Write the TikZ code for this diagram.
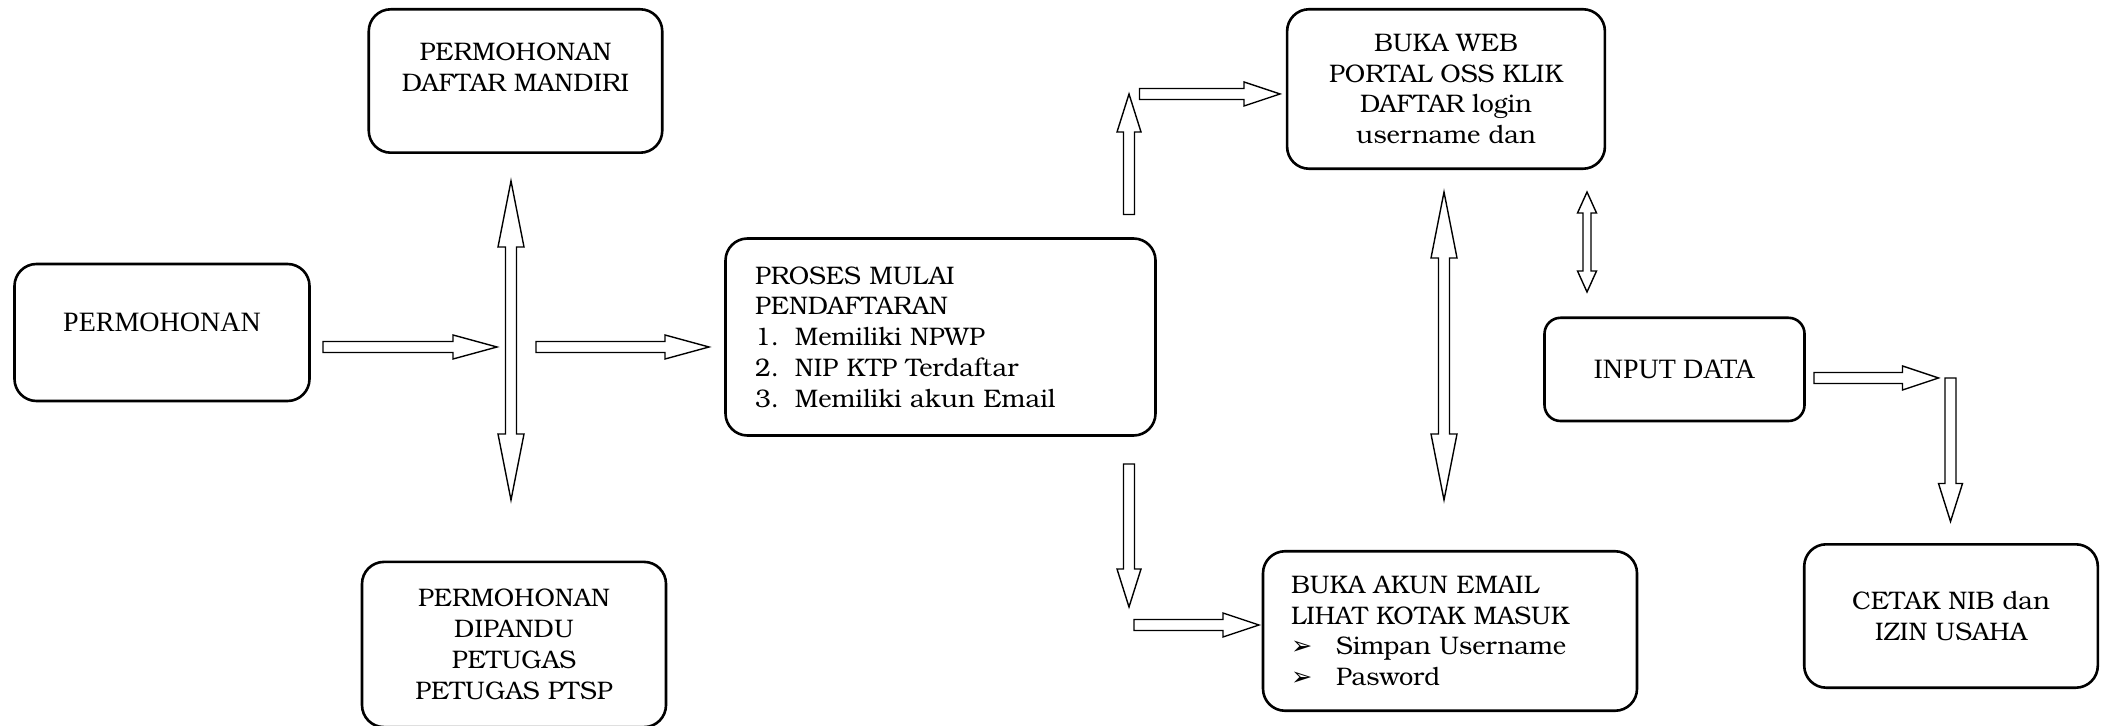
\documentclass[tikz,border=0pt]{standalone}
\usepackage{fontspec}
\setmainfont{TeX Gyre Bonum}
\newfontfamily\timesfont{Liberation Serif}
\newfontfamily\dingfont{DejaVu Sans}
\usepackage{tikz}
\usepackage{xcolor}
\usetikzlibrary{calc}
\definecolor{vblack}{HTML}{000000}

\newcommand{\bookfont}{\fontsize{12.7}{15.4}\selectfont}
\newcommand{\romfont}{\timesfont\fontsize{14}{17}\selectfont}

% tail, tip, shaft half width, head half width, head length
\newcommand{\blockarrow}[5]{%
	\draw[arrowline] ($(#1)!#3!90:(#2)$) -- ($(#2)!#5!(#1)!#3!-90:(#1)$) -- ($(#2)!#5!(#1)!#4!-90:(#1)$) -- (#2) -- ($(#2)!#5!(#1)!#4!90:(#1)$) -- ($(#2)!#5!(#1)!#3!90:(#1)$) -- ($(#1)!#3!-90:(#2)$) -- cycle;
}
% tip, tip, shaft half width, head half width, head length
\newcommand{\doubleblockarrow}[5]{%
	\draw[arrowline] (#1) -- ($(#1)!#5!(#2)!#4!90:(#2)$) -- ($(#1)!#5!(#2)!#3!90:(#2)$) -- ($(#2)!#5!(#1)!#3!-90:(#1)$) -- ($(#2)!#5!(#1)!#4!-90:(#1)$) -- (#2) -- ($(#2)!#5!(#1)!#4!90:(#1)$) -- ($(#2)!#5!(#1)!#3!90:(#1)$) -- ($(#1)!#5!(#2)!#3!-90:(#2)$) -- ($(#1)!#5!(#2)!#4!-90:(#2)$) -- cycle;
}

\begin{document}
\begin{tikzpicture}[x=0.5pt, y=-0.5pt,
	box/.style={draw=vblack, line width=1.3pt, rounded corners=11pt, align=center, inner sep=0pt, font=\bookfont},
	arrowline/.style={draw=vblack, fill=white, line width=0.7pt, line join=miter}]
		\useasboundingbox (0,0) rectangle (2102,726);

		% boxes
		\node[box, font=\romfont, minimum width=147.5pt, minimum height=68.5pt] (permohonan) at (162,332.5) {\begin{tabular}{@{}c@{}}PERMOHONAN\\[8pt]\end{tabular}};
		\node[box, minimum width=146.75pt, minimum height=71.7pt] (mandiri) at (515.5,81) {\begin{tabular}{@{}c@{}}PERMOHONAN\\DAFTAR MANDIRI\\[11pt]\end{tabular}};
		\node[box, minimum width=152pt, minimum height=82.6pt] (dipandu) at (514,644.5) {PERMOHONAN\\DIPANDU\\PETUGAS\\PETUGAS PTSP};
		\node[box, align=left, text width=185.5pt, minimum width=215pt, minimum height=98.5pt] (proses) at (940.5,337) {PROSES MULAI\\PENDAFTARAN\\\makebox[20pt][l]{1.}Memiliki NPWP\\\makebox[20pt][l]{2.}NIP KTP Terdaftar\\\makebox[20pt][l]{3.}Memiliki akun Email};
		\node[box, minimum width=158.9pt, minimum height=79.75pt] (web) at (1446,89) {BUKA WEB\\PORTAL OSS KLIK\\DAFTAR login\\ username dan};
		\node[box, align=left, text width=159pt, minimum width=187pt, minimum height=79.75pt] (email) at (1450,631) {BUKA AKUN EMAIL\\LIHAT KOTAK MASUK\\\makebox[22.5pt][l]{\dingfont ➢}Simpan Username\\\makebox[22.5pt][l]{\dingfont ➢}Pasword};
		\node[box, font=\romfont, rounded corners=8pt, minimum width=130pt, minimum height=51.6pt] (input) at (1674.5,369.4) {INPUT DATA};
		\node[box, minimum width=146.8pt, minimum height=71.7pt] (cetak) at (1951,616) {CETAK NIB dan\\IZIN USAHA};

		% arrow ends
		\coordinate (A1) at (323,347);
		\coordinate (A2) at (497,347);
		\coordinate (B1) at (536,347);
		\coordinate (B2) at (709,347);
		\coordinate (C1) at (511,181);
		\coordinate (C2) at (511,500);
		\coordinate (D1) at (1129,214.5);
		\coordinate (D2) at (1129,94);
		\coordinate (E1) at (1139.5,94);
		\coordinate (E2) at (1280,94);
		\coordinate (F1) at (1129,464);
		\coordinate (F2) at (1129,607);
		\coordinate (G1) at (1134,625);
		\coordinate (G2) at (1259,625);
		\coordinate (H1) at (1444,192);
		\coordinate (H2) at (1444,500);
		\coordinate (I1) at (1587,192);
		\coordinate (I2) at (1587,292);
		\coordinate (J1) at (1814,378);
		\coordinate (J2) at (1938.5,378);
		\coordinate (K1) at (1950.5,378);
		\coordinate (K2) at (1950.5,521.5);

		\blockarrow{A1}{A2}{2.75pt}{6pt}{22pt}
		\blockarrow{B1}{B2}{2.75pt}{6pt}{22pt}
		\doubleblockarrow{C1}{C2}{2.75pt}{6.5pt}{33pt}
		\blockarrow{D1}{D2}{2.75pt}{6pt}{19pt}
		\blockarrow{E1}{E2}{2.75pt}{6pt}{18pt}
		\blockarrow{F1}{F2}{2.75pt}{6pt}{19pt}
		\blockarrow{G1}{G2}{2.75pt}{6pt}{18pt}
		\doubleblockarrow{H1}{H2}{2.75pt}{6.5pt}{33pt}
		\doubleblockarrow{I1}{I2}{2pt}{4.75pt}{10.5pt}
		\blockarrow{J1}{J2}{2.75pt}{6pt}{18pt}
		\blockarrow{K1}{K2}{2.75pt}{6pt}{19pt}
	\end{tikzpicture}
\end{document}
